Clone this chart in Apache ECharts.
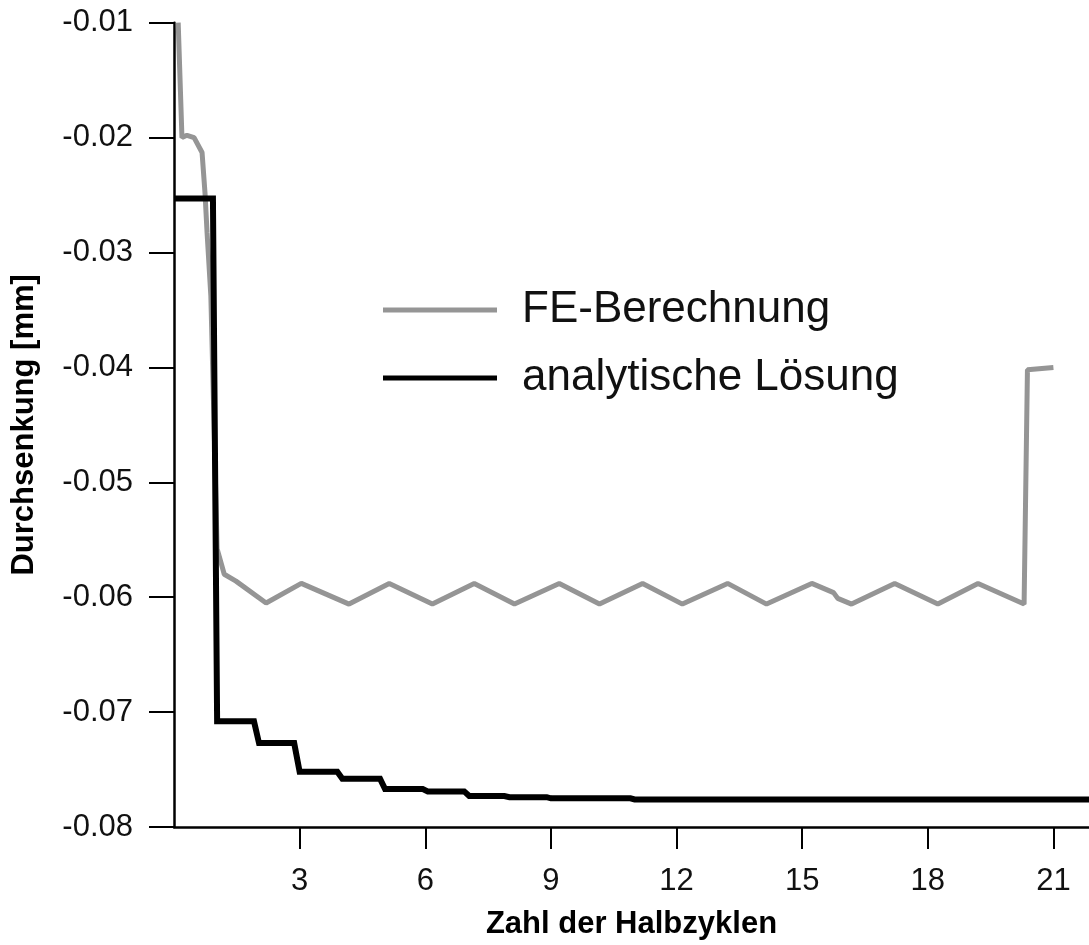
<!DOCTYPE html>
<html>
<head>
<meta charset="utf-8">
<script src="https://cdn.jsdelivr.net/npm/echarts@6/dist/echarts.min.js"></script>
<style>
html,body{margin:0;padding:0;background:#fff;}
#c{width:1089px;height:945px;}
</style>
</head>
<body>
<div id="c"></div>
<script>
// Data
const seriesNames = ['FE-Berechnung', 'analytische Lösung'];
const xTickValues = [3, 6, 9, 12, 15, 18, 21];
const yTickValues = [-0.08, -0.07, -0.06, -0.05, -0.04, -0.03, -0.02, -0.01];

const feX = [0.10,0.19,0.31,0.48,0.67,0.74,0.79,0.88,0.95,1.03,1.20,1.48,2.20,3.04,4.18,5.14,6.17,7.17,8.13,9.20,10.16,11.19,12.14,13.22,14.15,15.23,15.75,15.85,16.18,17.21,18.24,19.20,20.30,20.38,21.00];
const feY = [-0.0100,-0.0200,-0.0198,-0.0200,-0.0213,-0.0248,-0.0283,-0.0338,-0.0440,-0.0558,-0.0580,-0.0586,-0.0605,-0.0588,-0.0606,-0.0588,-0.0606,-0.0588,-0.0606,-0.0588,-0.0606,-0.0588,-0.0606,-0.0588,-0.0606,-0.0588,-0.0596,-0.0601,-0.0606,-0.0588,-0.0606,-0.0588,-0.0606,-0.0402,-0.0400];

const anX = [0.02,0.93,1.03,1.91,2.03,2.87,3.00,3.90,4.02,4.92,5.04,5.94,6.06,6.93,7.05,7.89,8.01,8.90,9.00,10.90,11.00,21.85];
const anY = [-0.0253,-0.0253,-0.0708,-0.0708,-0.0727,-0.0727,-0.0752,-0.0752,-0.0758,-0.0758,-0.0767,-0.0767,-0.0769,-0.0769,-0.0773,-0.0773,-0.0774,-0.0774,-0.0775,-0.0775,-0.0776,-0.0776];

const zip = (xs, ys) => xs.map((x, i) => [x, ys[i]]);

const chart = echarts.init(document.getElementById('c'), null, {renderer: 'canvas'});
const FONT = '"Liberation Sans", Arial, Helvetica, sans-serif';
const GRAY = '#959595';
chart.setOption({
  animation: false,
  backgroundColor: '#fff',
  grid: {left: 174, right: 0, top: 22.7, bottom: 117, containLabel: false},
  legend: {
    orient: 'vertical',
    left: 383,
    top: 288,
    padding: 0,
    itemGap: 24,
    itemWidth: 114,
    itemHeight: 5,
    selectedMode: false,
    textStyle: {fontFamily: FONT, fontSize: 44, color: '#111', padding: [0, 0, 0, 20]},
    data: [
      {name: seriesNames[0], icon: 'rect', itemStyle: {color: GRAY}},
      {name: seriesNames[1], icon: 'rect', itemStyle: {color: '#000'}}
    ]
  },
  xAxis: {
    type: 'value',
    min: 0,
    max: 21.85,
    interval: 3,
    name: 'Zahl der Halbzyklen',
    nameLocation: 'middle',
    nameGap: 82,
    nameMoveOverlap: false,
    nameTextStyle: {fontFamily: FONT, fontSize: 31, fontWeight: 'bold', color: '#000'},
    axisLine: {show: true, onZero: false, lineStyle: {color: '#000', width: 2.5}},
    axisTick: {show: true, length: 22, lineStyle: {color: '#000', width: 2}, customValues: xTickValues},
    axisLabel: {fontFamily: FONT, fontSize: 31, color: '#111', margin: 39,
      showMinLabel: false, showMaxLabel: false,
      formatter: v => (xTickValues.indexOf(Math.round(v * 100) / 100) >= 0 ? String(Math.round(v)) : '')},
    splitLine: {show: false}
  },
  yAxis: {
    type: 'value',
    min: -0.08,
    max: -0.01,
    interval: 0.01,
    name: 'Durchsenkung [mm]',
    nameLocation: 'middle',
    nameGap: 134,
    nameMoveOverlap: false,
    nameTextStyle: {fontFamily: FONT, fontSize: 31, fontWeight: 'bold', color: '#000'},
    axisLine: {show: true, onZero: false, lineStyle: {color: '#000', width: 2.5}},
    axisTick: {show: true, length: 25, lineStyle: {color: '#000', width: 2}, customValues: yTickValues},
    axisLabel: {fontFamily: FONT, fontSize: 31, color: '#111', margin: 41, customValues: yTickValues,
      formatter: v => v.toFixed(2)},
    splitLine: {show: false}
  },
  series: [
    {
      name: seriesNames[0],
      type: 'line',
      data: zip(feX, feY),
      showSymbol: false,
      symbol: 'none',
      clip: true,
      lineStyle: {color: GRAY, width: 5},
      itemStyle: {color: GRAY},
      z: 2
    },
    {
      name: seriesNames[1],
      type: 'line',
      data: zip(anX, anY),
      showSymbol: false,
      symbol: 'none',
      clip: true,
      lineStyle: {color: '#000', width: 6, join: 'miter'},
      itemStyle: {color: '#000'},
      z: 3
    }
  ]
});
</script>
</body>
</html>
